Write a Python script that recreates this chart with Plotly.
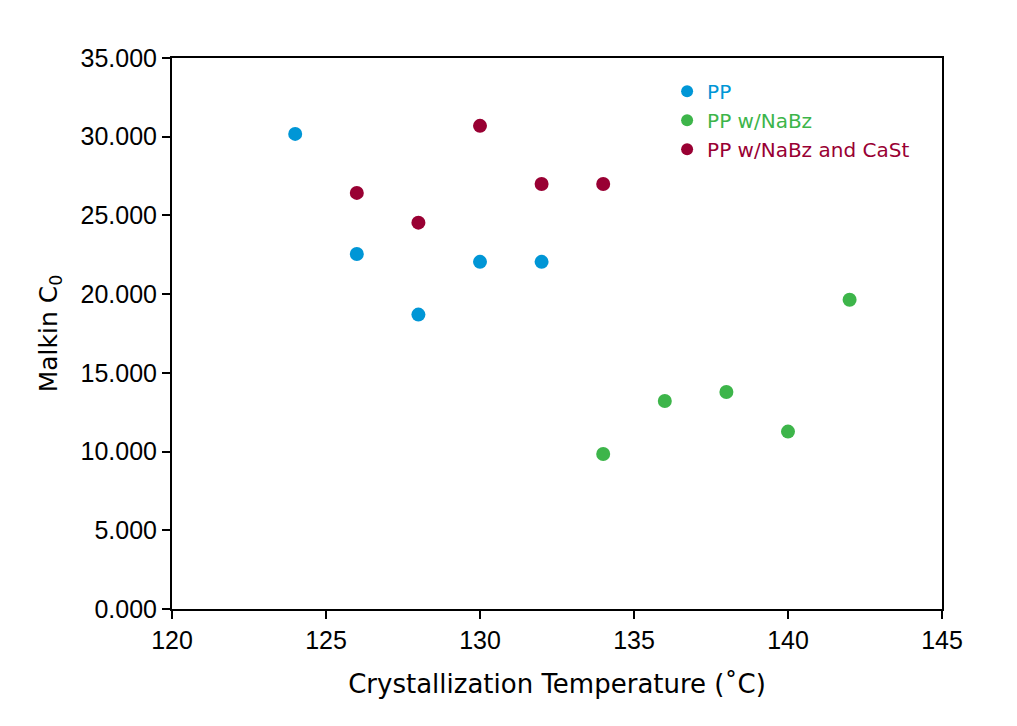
import plotly.graph_objects as go

pp_x = [124, 126, 128, 130, 132]
pp_y = [30.18, 22.55, 18.7, 22.05, 22.05]
nabz_x = [134, 136, 138, 140, 142]
nabz_y = [9.85, 13.21, 13.78, 11.27, 19.64]
cast_x = [126, 128, 130, 132, 134]
cast_y = [26.43, 24.54, 30.69, 27.0, 27.0]

x_ticks = [120, 125, 130, 135, 140, 145]
y_ticks = [0, 5, 10, 15, 20, 25, 30, 35]
y_labels = ["%.3f" % v for v in y_ticks]

colors = ["#0096D6", "#3DB54A", "#990033"]
names = ["PP", "PP w/NaBz", "PP w/NaBz and CaSt"]

font_t = "DejaVu Sans, sans-serif"
fig = go.Figure()
for xs, ys, c, n in zip([pp_x, nabz_x, cast_x], [pp_y, nabz_y, cast_y], colors, names):
    fig.add_trace(go.Scatter(x=xs, y=ys, mode="markers",
                             name="<span style='color:%s'>%s</span>" % (c, n),
                             marker=dict(color=c, size=14, line=dict(width=0))))

fig.update_layout(
    width=1001, height=710,
    paper_bgcolor="white", plot_bgcolor="white",
    margin=dict(l=164, r=67, t=50, b=109),
    showlegend=True,
    legend=dict(x=0.643, y=0.975, xanchor="left", yanchor="top",
                bgcolor="rgba(0,0,0,0)", font=dict(size=20, family=font_t),
                itemsizing="constant", tracegroupgap=0, itemwidth=30),
    xaxis=dict(range=[120, 145], tickvals=x_ticks, ticks="outside", ticklen=8,
               tickwidth=2, tickcolor="black", showline=True, linecolor="black",
               linewidth=2, mirror=True, showgrid=False, zeroline=False,
               tickfont=dict(size=25, family="Liberation Sans, Arial", color="black"),
               title=dict(text="Crystallization Temperature (˚C)",
                          font=dict(size=26, family=font_t, color="black"), standoff=22)),
    yaxis=dict(range=[0, 35], tickvals=y_ticks, ticktext=y_labels, ticks="outside",
               ticklen=8, tickwidth=2, tickcolor="black", showline=True,
               linecolor="black", linewidth=2, mirror=True, showgrid=False,
               zeroline=False,
               tickfont=dict(size=25, family="Liberation Sans, Arial", color="black"),
               title=dict(text="Malkin C<sub>0</sub>",
                          font=dict(size=25, family=font_t, color="black"), standoff=16)),
)

fig.write_html("out.html")
